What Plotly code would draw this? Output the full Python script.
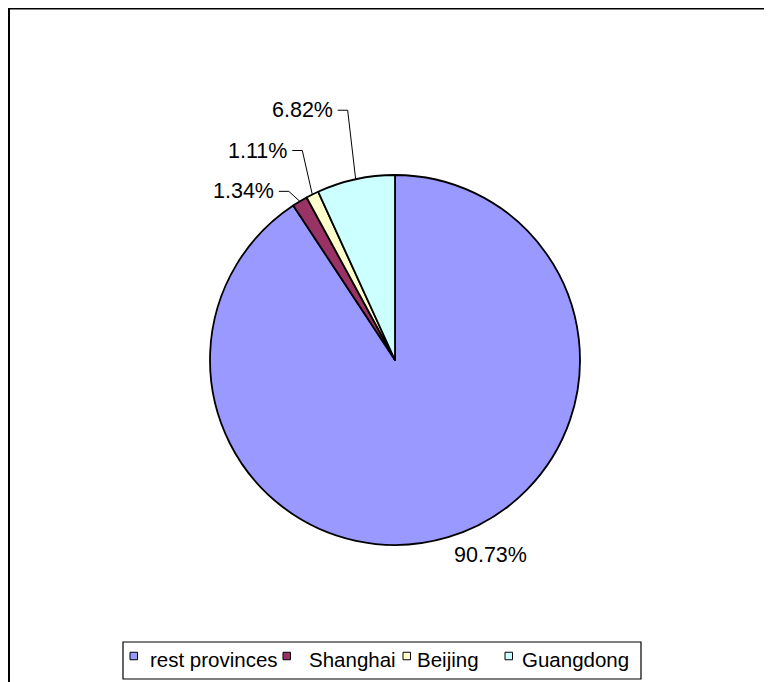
import math
import plotly.graph_objects as go

# ---- data ----
labels = ["rest provinces", "Shanghai", "Beijing", "Guangdong"]
values = [90.73, 1.34, 1.11, 6.82]
pct_text = ["90.73%", "1.34%", "1.11%", "6.82%"]
colors = ["#9999FF", "#993366", "#FFFFCC", "#CCFFFF"]

# ---- layout constants (screen pixels; page body adds an 8px offset) ----
W, H = 764, 674
OFF = 8
CX, CY, R = 395, 360, 185
# leader elbow offsets relative to slice edge point (None = label without leader)
leader = [None, (-11, -10), (-10, -44), (-8, -69)]
free_label_offset = (42, 18)
FONT = "Liberation Sans, Arial, sans-serif"
FS = 21.5
LEG_FS = 20.5
LEG_BOX = (123, 642, 641, 679)
LEG_SYM_X = [130, 283, 403, 505]
LEG_TXT_X = [148, 307, 415, 520]
LEG_Y = 656
SYM = 7.5


def px(x):
    return (x - OFF) / W


def py(y):
    return 1 - (y - OFF) / H


fig = go.Figure(go.Pie(
    labels=labels, values=values, sort=False, direction="clockwise", rotation=0,
    marker=dict(colors=colors, line=dict(color="black", width=1.8)),
    textinfo="none", hoverinfo="label+percent", showlegend=False,
    domain=dict(x=[px(CX - R), px(CX + R)], y=[py(CY + R), py(CY - R)]),
))

shapes = []
annotations = []
total = sum(values)
cum = 0.0
for i, v in enumerate(values):
    mid = (cum + v / 2) / total * 2 * math.pi
    cum += v
    ex = CX + R * math.sin(mid)
    ey = CY - R * math.cos(mid)
    if leader[i] is None:
        dx, dy = free_label_offset
        annotations.append(dict(x=px(ex + dx), y=py(ey + dy), xref="paper", yref="paper",
                                text=pct_text[i], showarrow=False, xanchor="center", yanchor="middle",
                                font=dict(family=FONT, size=FS, color="black")))
    else:
        dx, dy = leader[i]
        elx, ely = ex + dx, ey + dy
        tx = elx - 10
        shapes.append(dict(type="line", xref="paper", yref="paper", x0=px(ex), y0=py(ey),
                           x1=px(elx), y1=py(ely), line=dict(color="black", width=1)))
        shapes.append(dict(type="line", xref="paper", yref="paper", x0=px(elx), y0=py(ely),
                           x1=px(tx), y1=py(ely), line=dict(color="black", width=1)))
        annotations.append(dict(x=px(tx - 3), y=py(ely), xref="paper", yref="paper",
                                text=pct_text[i], showarrow=False, xanchor="right", yanchor="middle",
                                font=dict(family=FONT, size=FS, color="black")))

# legend (box, swatches, labels)
x0, y0, x1, y1 = LEG_BOX
shapes.append(dict(type="rect", xref="paper", yref="paper", x0=px(x0), y0=py(y0), x1=px(x1), y1=py(y1),
                   line=dict(color="black", width=1.2), fillcolor="white"))
for lab, col, sx, tx in zip(labels, colors, LEG_SYM_X, LEG_TXT_X):
    shapes.append(dict(type="rect", xref="paper", yref="paper", x0=px(sx), y0=py(LEG_Y - SYM / 2),
                       x1=px(sx + SYM), y1=py(LEG_Y + SYM / 2),
                       line=dict(color="black", width=1), fillcolor=col))
    annotations.append(dict(x=px(tx), y=py(LEG_Y + 3), xref="paper", yref="paper", text=lab,
                            showarrow=False, xanchor="left", yanchor="middle",
                            font=dict(family=FONT, size=LEG_FS, color="black")))

# outer frame: left and top edges (right/bottom lie beyond the visible window)
shapes.append(dict(type="line", xref="paper", yref="paper", x0=1 / W, y0=1 - 0.5 / H, x1=1, y1=1 - 0.5 / H,
                   line=dict(color="black", width=2)))
shapes.append(dict(type="line", xref="paper", yref="paper", x0=1 / W, y0=1, x1=1 / W, y1=0,
                   line=dict(color="black", width=2)))

fig.update_layout(
    width=W, height=H, margin=dict(l=0, r=0, t=0, b=0),
    paper_bgcolor="white", plot_bgcolor="white",
    showlegend=False,
    shapes=shapes, annotations=annotations,
)

fig.write_html("out.html")
